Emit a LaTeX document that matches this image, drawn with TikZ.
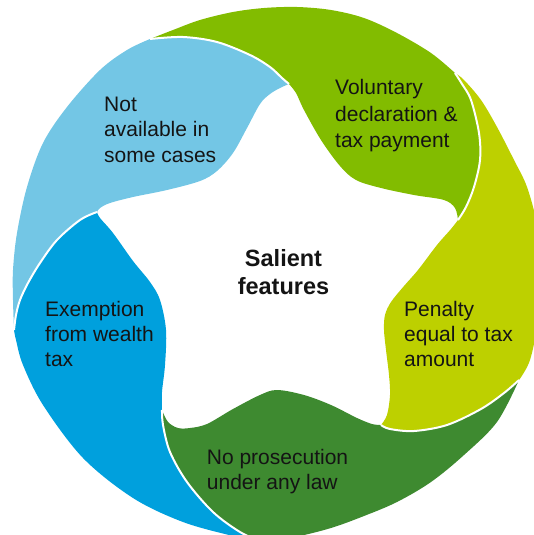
\documentclass[tikz,border=0pt]{standalone}
\usepackage{fontspec}
\setmainfont{Liberation Sans}
\definecolor{cLB}{RGB}{115,198,229}
\definecolor{cG}{RGB}{130,188,0}
\definecolor{cY}{RGB}{189,208,0}
\definecolor{cDG}{RGB}{62,138,48}
\definecolor{cDB}{RGB}{0,160,221}
\definecolor{txt}{RGB}{20,20,20}
\newcommand{\lbl}{\fontsize{21}{25.5}\selectfont}
\begin{document}
\begin{tikzpicture}[x=1pt,y=-1pt,
  seg/.style={draw=none},
  sep/.style={draw=white,line width=2pt},
  lab/.style={anchor=base west,inner sep=0pt,text=txt},
  sm/.style={smooth,tension=0.55}]
\useasboundingbox (0,0) rectangle (534,535);
\clip (0,0) rectangle (534,535);
% light blue
\fill[cLB] plot[sm] coordinates {(14,330) (13,300) (13,270) (17,233) (27,187) (43,143) (67,107) (100,70) (127,50) (150,39)}
  -- plot[sm] coordinates {(150,39) (183,37) (217,42) (250,55) (270,67) (282,78) (289,84)}
  -- plot[sm] coordinates {(289,84) (280,88) (270,94) (260,104) (247,128) (233,153) (217,171) (200,181) (167,190) (133,197) (110,203) (100,208) (97,212)}
  -- plot[sm] coordinates {(97,212) (80,220) (57,240) (40,263) (28,283) (20,300) (16,315) (14,330)} -- cycle;
% green
\fill[cG] plot[sm] coordinates {(150,39) (173,30) (200,20) (233,12) (264,8) (297,7) (331,10) (364,18) (397,33) (431,53) (455,73)}
  -- plot[sm] coordinates {(455,73) (462,84) (471,100) (479,133) (480,160) (474,187) (466,207) (458,220)}
  -- plot[sm] coordinates {(458,220) (455,208) (444,200) (414,195) (381,188) (356,180) (340,166) (321,140) (304,110) (296,93) (289,84)}
  -- plot[sm] coordinates {(289,84) (282,78) (270,67) (250,55) (217,42) (183,37) (150,39)} -- cycle;
% yellow green
\fill[cY] plot[sm] coordinates {(455,73) (464,80) (481,100) (497,127) (514,160) (527,187) (537,225) (541,270) (538,320) (530,360) (519,380)}
  -- plot[sm] coordinates {(519,380) (504,393) (481,409) (447,425) (414,431) (390,429) (381,425)}
  -- plot[sm] coordinates {(381,425) (387,415) (390,395) (389,375) (386,350) (384,330) (385,315) (391,302) (404,286) (418,270) (437,245) (451,229) (458,220)}
  -- plot[sm] coordinates {(458,220) (466,207) (474,187) (480,160) (479,133) (471,100) (462,84) (455,73)} -- cycle;
% dark green
\fill[cDG] plot[sm] coordinates {(519,380) (497,422) (464,455) (431,482) (397,502) (364,516) (331,528) (295,537) (262,542)}
  -- plot[sm] coordinates {(262,542) (240,532) (213,512) (187,482) (170,452) (163,425) (162,410)}
  -- plot[sm] coordinates {(162,410) (168,422) (178,428) (190,428) (207,424) (233,409) (260,395) (277,390) (304,395) (331,405) (357,418) (372,424) (381,425)}
  -- plot[sm] coordinates {(381,425) (390,429) (414,431) (447,425) (481,409) (504,393) (519,380)} -- cycle;
% dark blue
\fill[cDB] plot[sm] coordinates {(262,542) (233,536) (183,522) (133,498) (83,458) (43,405) (23,365) (16,340) (14,330)}
  -- plot[sm] coordinates {(14,330) (16,315) (20,300) (28,283) (40,263) (57,240) (80,220) (97,212)}
  -- plot[sm] coordinates {(97,212) (100,218) (113,233) (133,261) (150,282) (160,300) (166,330) (165,365) (162,392) (162,410)}
  -- plot[sm] coordinates {(162,410) (163,425) (170,452) (187,482) (213,512) (240,532) (262,542)} -- cycle;
% white separators
\draw[sep] plot[sm] coordinates {(150,39) (183,37) (217,42) (250,55) (270,67) (282,78) (289,84)};
\draw[sep] plot[sm] coordinates {(455,73) (462,84) (471,100) (479,133) (480,160) (474,187) (466,207) (458,220)};
\draw[sep] plot[sm] coordinates {(381,425) (390,429) (414,431) (447,425) (481,409) (504,393) (519,380)};
\draw[sep] plot[sm] coordinates {(162,410) (163,425) (170,452) (187,482) (213,512) (240,532) (262,542)};
\draw[sep] plot[sm] coordinates {(97,212) (80,220) (57,240) (40,263) (28,283) (20,300) (16,315) (14,330)};
% labels
\node[lab,font=\lbl] (notavail) at (104,111) {\begin{tabular}[t]{@{}l@{}}Not\\available in\\some cases\end{tabular}};
\node[lab,font=\fontsize{21}{26.8}\selectfont] (voluntary) at (335,94.3) {\begin{tabular}[t]{@{}l@{}}Voluntary\\declaration \&\\tax payment\end{tabular}};
\node[lab,font=\fontsize{21}{25.2}\selectfont] (penalty) at (404,316.5) {\begin{tabular}[t]{@{}l@{}}Penalty\\equal to tax\\amount\end{tabular}};
\node[lab,font=\fontsize{21}{25.2}\selectfont] (exemption) at (45,316) {\begin{tabular}[t]{@{}l@{}}Exemption\\from wealth\\tax\end{tabular}};
\node[lab,font=\fontsize{21}{25.2}\selectfont] (noprosecution) at (206.7,464.3) {\begin{tabular}[t]{@{}l@{}}No prosecution\\under any law\end{tabular}};
\node[anchor=base,inner sep=0pt,text=txt,font=\bfseries\fontsize{23.5}{28}\selectfont] (salient) at (283.5,266) {\begin{tabular}[t]{@{}c@{}}Salient\\features\end{tabular}};
\end{tikzpicture}
\end{document}
